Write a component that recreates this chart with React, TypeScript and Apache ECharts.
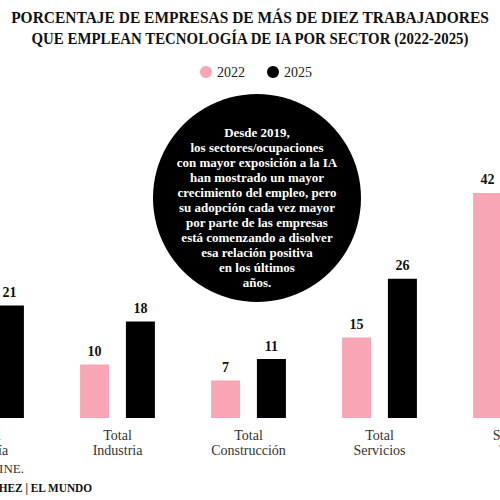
import React, { useEffect, useRef } from "react";
import * as echarts from "echarts";

const categories = ["Total\nEnergía", "Total\nIndustria", "Total\nConstrucción", "Total\nServicios", "Sector\nTIC"];
const values2022 = [12, 10, 7, 15, 42];
const values2025 = [21, 18, 11, 26, 48];
const seriesNames = ["2022", "2025"];
const titleLines = [
  "PORCENTAJE DE EMPRESAS DE MÁS DE DIEZ TRABAJADORES",
  "QUE EMPLEAN TECNOLOGÍA DE IA POR SECTOR (2022-2025)",
];
const noteText = [
  "Desde 2019,",
  "los sectores/ocupaciones",
  "con mayor exposición a la IA",
  "han mostrado un mayor",
  "crecimiento del empleo, pero",
  "su adopción cada vez mayor",
  "por parte de las empresas",
  "está comenzando a disolver",
  "esa relación positiva",
  "en los últimos",
  "años.",
];
const sourceLines = ["Fuente: INE.", "Gráfico: C. SÁNCHEZ | EL MUNDO"];

const PINK = "#f8a6b6";
const BLACK = "#000000";
const SERIF = "'Liberation Serif', 'DejaVu Serif', serif";

// The chart canvas is wider than the visible window and shifted left (the reference is cropped)
const OFFSET = 79;
const CHART_W = 655;

export default function App() {
  const ref = useRef<HTMLDivElement>(null);
  useEffect(() => {
    if (!ref.current) return;
    const chart = echarts.init(ref.current, undefined, { renderer: "svg" });
    const labelStyle = {
      show: true,
      position: "top" as const,
      distance: 6,
      fontFamily: SERIF,
      fontSize: 14,
      fontWeight: "bold" as const,
      color: "#111",
    };
    chart.setOption({
      animation: false,
      backgroundColor: "#ffffff",
      legend: {
        top: 60,
        left: OFFSET + 195,
        icon: "circle",
        itemWidth: 12,
        itemHeight: 12,
        itemGap: 22,
        textStyle: { fontFamily: SERIF, fontSize: 14, color: "#222" },
        data: seriesNames,
      },
      grid: { left: 0, right: 0, top: 150, bottom: 82 },
      xAxis: {
        type: "category",
        data: categories,
        axisLine: { show: false },
        axisTick: { show: false },
        axisLabel: {
          interval: 0,
          margin: 10,
          fontFamily: SERIF,
          fontSize: 14,
          lineHeight: 15,
          color: "#333",
        },
      },
      yAxis: {
        type: "value",
        min: 0,
        max: 50,
        show: false,
        splitLine: { show: false },
      },
      series: [
        {
          name: seriesNames[0],
          type: "bar",
          data: values2022,
          barWidth: 29,
          barGap: "58%",
          itemStyle: { color: PINK },
          label: labelStyle,
        },
        {
          name: seriesNames[1],
          type: "bar",
          data: values2025,
          barWidth: 29,
          itemStyle: { color: BLACK },
          label: labelStyle,
        },
      ],
      graphic: [
        {
          type: "text",
          x: OFFSET + 250,
          y: 18,
          scaleX: 0.91,
          style: {
            text: titleLines[0],
            textAlign: "center",
            textVerticalAlign: "middle",
            fontFamily: SERIF,
            fontWeight: "bold",
            fontSize: 17,
            fill: "#111",
          },
        },
        {
          type: "text",
          x: OFFSET + 250,
          y: 38,
          scaleX: 0.875,
          style: {
            text: titleLines[1],
            textAlign: "center",
            textVerticalAlign: "middle",
            fontFamily: SERIF,
            fontWeight: "bold",
            fontSize: 17,
            fill: "#111",
          },
        },
        {
          type: "circle",
          shape: { cx: OFFSET + 257, cy: 198, r: 104 },
          style: { fill: "#000" },
          z: 10,
        },
        {
          type: "text",
          x: OFFSET + 257,
          y: 207,
          z: 11,
          style: {
            text: noteText.join("\n"),
            textAlign: "center",
            textVerticalAlign: "middle",
            fontFamily: SERIF,
            fontWeight: "bold",
            fontSize: 13,
            lineHeight: 15,
            fill: "#fff",
          },
        },
        {
          type: "text",
          x: OFFSET + 24,
          y: 468,
          style: {
            text: sourceLines[0],
            textAlign: "right",
            textVerticalAlign: "middle",
            fontFamily: SERIF,
            fontSize: 13,
            fill: "#333",
          },
        },
        {
          type: "text",
          x: OFFSET + 92,
          y: 488,
          scaleX: 0.87,
          style: {
            text: sourceLines[1],
            textAlign: "right",
            textVerticalAlign: "middle",
            fontFamily: SERIF,
            fontWeight: "bold",
            fontSize: 13,
            fill: "#111",
          },
        },
      ],
    });
    return () => chart.dispose();
  }, []);
  return (
    <div style={{ position: "fixed", left: 0, top: 0, width: 500, height: 500, overflow: "hidden", background: "#fff" }}>
      <div ref={ref} style={{ position: "absolute", left: -OFFSET, top: 0, width: CHART_W, height: 500 }} />
    </div>
  );
}
